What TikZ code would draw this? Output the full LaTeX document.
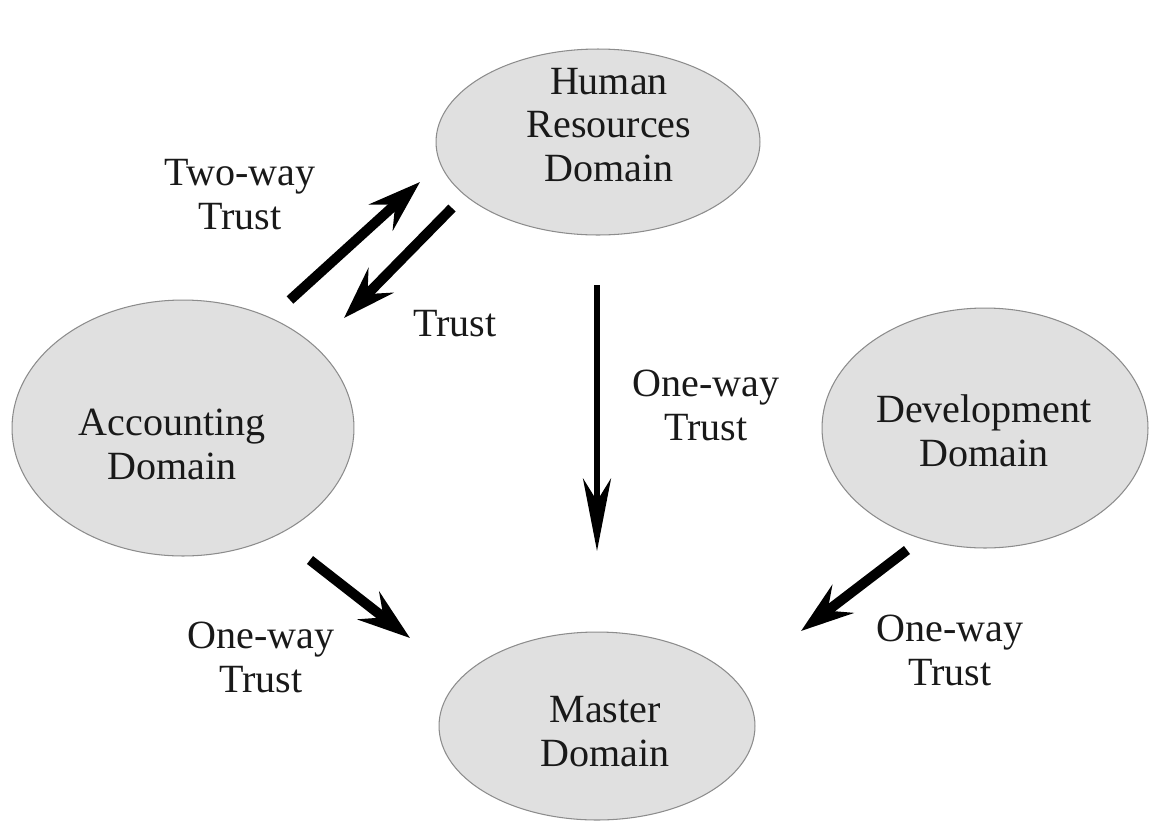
\documentclass[tikz,border=0pt]{standalone}
\usepackage{fontspec}
\setmainfont{Liberation Serif}
\usetikzlibrary{shapes.geometric,arrows.meta}
\begin{document}
\begin{tikzpicture}[
    x=0.02cm, y=-0.02cm,
    domainbox/.style={ellipse, draw=black!45, line width=0.6pt, fill=black!12, inner sep=0pt},
    txt/.style={align=center, text=black!90, font=\fontsize{22.8}{25}\selectfont},
    fat/.style={line width=0.2cm, -{Stealth[length=1.05cm, width=0.7cm, inset=0.38cm]}},
    slim/.style={line width=0.13cm, -{Stealth[length=1.45cm, width=0.56cm, inset=0.45cm]}}
]
\useasboundingbox (0,0) rectangle (1159,839);
\node[domainbox, minimum width=6.48cm, minimum height=3.72cm] (hr) at (598,142) {};
\node[domainbox, minimum width=6.84cm, minimum height=5.12cm] (acc) at (183,428) {};
\node[domainbox, minimum width=6.52cm, minimum height=4.8cm] (dev) at (985,428) {};
\node[domainbox, minimum width=6.32cm, minimum height=3.76cm] (master) at (597,726) {};
\node[txt] (hrtext) at (609,125) {Human\\Resources\\Domain};
\node[txt] (acctext) at (172,444) {Accounting\\Domain};
\node[txt] (devtext) at (984,431) {Development\\Domain};
\node[txt] (mastertext) at (605,732) {Master\\Domain};
\node[txt] (twoway) at (240,195) {Two-way\\Trust};
\node[txt] (back) at (455,324) {Trust};
\node[txt] (oneway) at (706,405) {One-way\\Trust};
\node[txt] (accway) at (261,657) {One-way\\Trust};
\node[txt] (devway) at (950,650) {One-way\\Trust};
\coordinate (up1) at (290,300);
\coordinate (up2) at (420,182);
\coordinate (dn1) at (452,208);
\coordinate (dn2) at (344,318);
\coordinate (hr1) at (597,285);
\coordinate (hr2) at (597,551);
\coordinate (ac1) at (310,560);
\coordinate (ac2) at (410,638);
\coordinate (dv1) at (907,550);
\coordinate (dv2) at (801,631);
\draw[fat] (up1) -- (up2);
\draw[fat] (dn1) -- (dn2);
\draw[slim] (hr1) -- (hr2);
\draw[fat] (ac1) -- (ac2);
\draw[fat] (dv1) -- (dv2);
\end{tikzpicture}
\end{document}
